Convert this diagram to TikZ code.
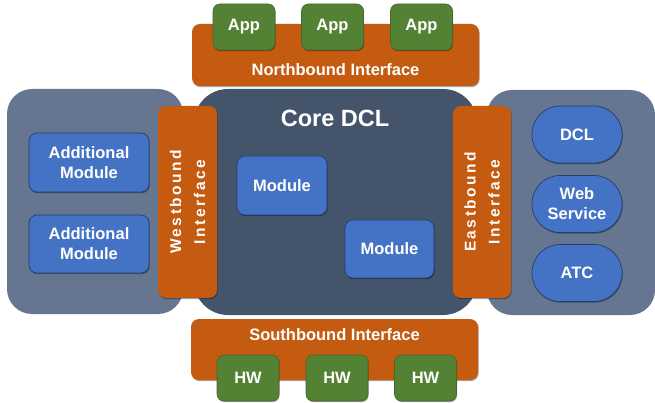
\documentclass[tikz,border=0pt]{standalone}
\usepackage{fontspec}
\setmainfont{Liberation Sans}
\newfontfamily\spacedfont[LetterSpace=16]{Liberation Sans}
\usetikzlibrary{shadows}
\definecolor{orng}{HTML}{C55A11}
\definecolor{grn}{HTML}{548235}
\definecolor{blu}{HTML}{4472C4}
\definecolor{coreclr}{HTML}{44546A}
\definecolor{sideclr}{HTML}{667690}
\tikzset{
  base/.style={rounded corners=#1, inner sep=0pt, text=white, align=center,
    font=\bfseries\fontsize{16.5}{20}\selectfont},
  base/.default=7pt,
  shad/.style={drop shadow={shadow xshift=0.7pt, shadow yshift=-1.2pt, opacity=0.35, fill=black}},
  orangebar/.style={base=8pt, fill=orng, shad},
  greenbox/.style={base=7pt, fill=grn, draw=grn!80!black, line width=0.6pt, shad,
    minimum width=62pt, minimum height=46pt},
  bluebox/.style={base=8pt, fill=blu, draw=blu!55!black, line width=0.7pt, shad},
  panel/.style={base=25pt, fill=sideclr},
  corepanel/.style={base=34pt, fill=coreclr},
  vtext/.style={text=white, font=\spacedfont\bfseries\fontsize{15.5}{24}\selectfont, align=center, rotate=90, inner sep=0pt},
  plain/.style={text=white, inner sep=0pt, font=\bfseries\fontsize{16.5}{20}\selectfont}
}
\begin{document}
\begin{tikzpicture}[x=1pt, y=-1pt]
\useasboundingbox (0,0) rectangle (655,403);
% side panels and core
\node[panel, minimum width=176pt, minimum height=225pt] (leftpanel) at (95,201.5) {};
\node[panel, minimum width=168pt, minimum height=225pt] (rightpanel) at (571,202.5) {};
\node[corepanel, minimum width=283pt, minimum height=226pt] (core) at (335.5,202) {};
\node[plain, font=\bfseries\fontsize{23.5}{28}\selectfont] (coretitle) at (335,118) {Core DCL};
% interface bars
\node[orangebar, minimum width=59pt, minimum height=192pt] (west) at (187.5,202) {};
\node[vtext] (westtext) at (west.center) {Westbound\\Interface};
\node[orangebar, minimum width=58pt, minimum height=192pt] (east) at (482,202) {};
\node[vtext] (easttext) at (east.center) {Eastbound\\Interface};
% northbound
\node[orangebar, minimum width=287pt, minimum height=62pt] (north) at (335.5,55) {};
\node[plain] (northtext) at (335.5,70) {Northbound Interface};
\node[greenbox] (app1) at (244,27) {App};
\node[greenbox] (app2) at (332.5,27) {App};
\node[greenbox] (app3) at (421.5,27) {App};
% southbound
\node[orangebar, minimum width=287pt, minimum height=61pt] (south) at (334.5,349.5) {};
\node[plain] (southtext) at (334.5,335) {Southbound Interface};
\node[greenbox] (hw1) at (248,378) {HW};
\node[greenbox] (hw2) at (337,378) {HW};
\node[greenbox] (hw3) at (425.5,378) {HW};
% left modules
\node[bluebox, minimum width=120pt, minimum height=59pt] (add1) at (89,162.5) {Additional\\Module};
\node[bluebox, minimum width=120pt, minimum height=58pt] (add2) at (89,244) {Additional\\Module};
% core modules
\node[bluebox, minimum width=90pt, minimum height=59pt] (mod1) at (282,185.5) {Module};
\node[bluebox, minimum width=89pt, minimum height=58pt] (mod2) at (389.5,249) {Module};
% right services
\node[bluebox, rounded corners=28pt, minimum width=90pt, minimum height=57pt] (dcl) at (577,134.5) {DCL};
\node[bluebox, rounded corners=28pt, minimum width=90pt, minimum height=57pt] (web) at (577,204) {Web\\Service};
\node[bluebox, rounded corners=28pt, minimum width=90pt, minimum height=57pt] (atc) at (577,273) {ATC};
\end{tikzpicture}
\end{document}
